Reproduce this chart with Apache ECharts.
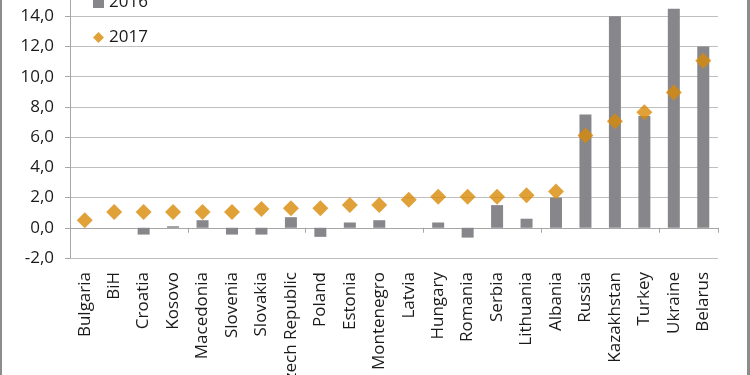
<!DOCTYPE html>
<html>
<head>
<meta charset="utf-8">
<script src="https://cdn.jsdelivr.net/npm/echarts@6/dist/echarts.min.js"></script>
<style>
  html, body { margin: 0; padding: 0; background: #fff; }
  #chart { width: 750px; height: 375px; }
</style>
</head>
<body>
<div id="chart"></div>
<script>
// countries, left to right
var countries = ['Bulgaria', 'BiH', 'Croatia', 'Kosovo', 'Macedonia', 'Slovenia', 'Slovakia',
  'Czech Republic', 'Poland', 'Estonia', 'Montenegro', 'Latvia', 'Hungary', 'Romania', 'Serbia',
  'Lithuania', 'Albania', 'Russia', 'Kazakhstan', 'Turkey', 'Ukraine', 'Belarus'];
// 2016 (bars)
var values2016 = [null, null, -0.45, 0.1, 0.5, -0.45, -0.45, 0.7, -0.6, 0.35, 0.5, null, 0.35, -0.65,
  1.5, 0.6, 2.0, 7.5, 14.0, 7.4, 14.5, 12.0];
// 2017 (diamonds)
var values2017 = [0.5, 1.05, 1.05, 1.05, 1.05, 1.05, 1.25, 1.3, 1.3, 1.5, 1.5, 1.85, 2.05, 2.05,
  2.05, 2.15, 2.4, 6.1, 7.05, 7.65, 8.95, 11.05];
var seriesNames = ['2016', '2017'];

var txt = '#1a1a1a';
var font = 'Open Sans';

var chart = echarts.init(document.getElementById('chart'));
chart.setOption({
  animation: false,
  textStyle: { fontFamily: font },
  grid: { left: 70, right: 32, top: -14, bottom: 117, containLabel: false, outerBoundsMode: 'none' },
  legend: {
    orient: 'vertical',
    left: 88,
    top: -11,
    itemWidth: 11,
    itemHeight: 11,
    itemGap: 18,
    textStyle: { fontSize: 17, color: txt, fontFamily: font },
    data: [
      { name: seriesNames[0], icon: 'rect', itemStyle: { borderWidth: 0 } },
      { name: seriesNames[1], icon: 'diamond' }
    ]
  },
  xAxis: [
    {
      type: 'category',
      data: countries,
      position: 'bottom',
      axisLine: { show: false, onZero: false },
      axisTick: { show: false },
      axisLabel: { rotate: 90, margin: 14, fontSize: 17, color: txt, fontFamily: font, interval: 0 }
    },
    {
      type: 'category',
      data: countries,
      position: 'top',
      axisLine: { show: true, onZero: true, onZeroAxisIndex: 0, lineStyle: { color: '#a6a6a6', width: 1 } },
      axisTick: { show: true, inside: true, length: 5, lineStyle: { color: '#a6a6a6' } },
      axisLabel: { show: false }
    }
  ],
  yAxis: {
    type: 'value',
    min: -2,
    max: 16,
    interval: 2,
    axisLine: { show: true, lineStyle: { color: '#a6a6a6' } },
    axisTick: { show: true, length: 5, lineStyle: { color: '#a6a6a6' } },
    splitLine: { lineStyle: { color: '#bfbfbf', width: 1 } },
    axisLabel: {
      margin: 16,
      fontSize: 17,
      color: txt,
      fontFamily: font,
      formatter: function (v) { return v.toFixed(1).replace('.', ','); }
    }
  },
  series: [
    {
      name: seriesNames[0],
      type: 'bar',
      xAxisIndex: 0,
      data: values2016,
      barWidth: 12,
      itemStyle: { color: '#87878b' }
    },
    {
      name: seriesNames[1],
      type: 'scatter',
      xAxisIndex: 0,
      data: values2017,
      symbol: 'diamond',
      symbolSize: [16, 16],
      itemStyle: { color: '#d98a08' },
      z: 3
    }
  ],
  graphic: [
    { type: 'rect', left: 0, top: 0, shape: { width: 2, height: 375 }, style: { fill: '#8c8c8c' } },
    { type: 'rect', right: 0, top: 0, shape: { width: 3, height: 375 }, style: { fill: '#8c8c8c' } }
  ]
});
</script>
</body>
</html>
